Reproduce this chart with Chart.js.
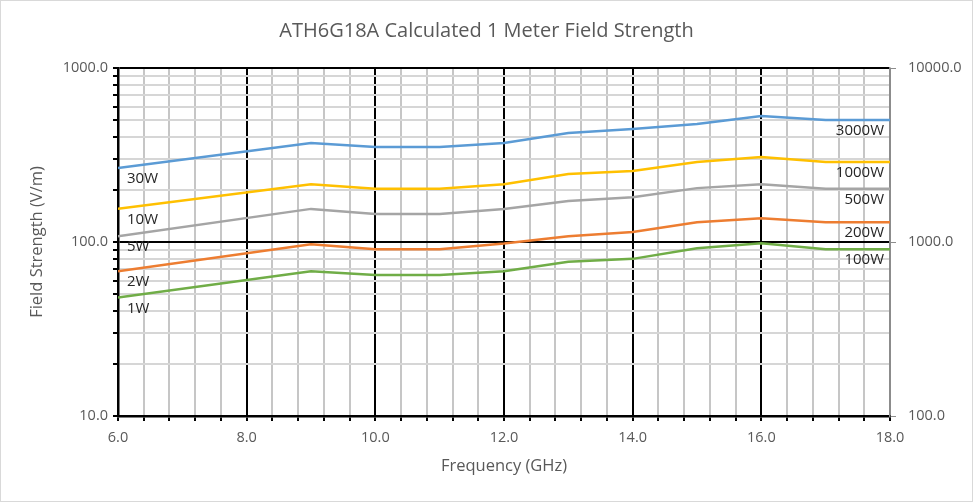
<!DOCTYPE html>
<html>
<head>
<meta charset="utf-8">
<script src="https://cdn.jsdelivr.net/npm/chart.js@4.4.1/dist/chart.umd.min.js"></script>
<style>
  html, body { margin: 0; padding: 0; background: #fff; }
  #wrap { width: 973px; height: 502px; }
</style>
</head>
<body>
<div id="wrap"><canvas id="grafico" width="973" height="502"></canvas></div>
<script>
// frequencias (GHz) onde a curva muda de direcao
const frequencias = [6, 9, 10, 11, 12, 13, 14, 15, 16, 17, 18];

// campo em V/m, eixo esquerdo (1W..30W); eixo direito = x10 (100W..3000W)
const campo30W = [266, 371, 352, 352, 371, 423, 446, 477, 530, 502, 502];
const campo10W = [155, 215, 202, 202, 215, 246, 256, 288, 308, 288, 288];
const campo5W  = [108, 155, 145, 145, 155, 172, 181, 204, 215, 202, 202];
const campo2W  = [68, 97, 91, 91, 98, 108, 114, 130, 137, 130, 130];
const campo1W  = [48, 68, 64.6, 64.6, 68, 77, 80, 92, 98.5, 91, 91];

const rotulosEsq = ["30W", "10W", "5W", "2W", "1W"];
const rotulosDir = ["3000W", "1000W", "500W", "200W", "100W"];
const cores = ["#5B9BD5", "#FFC000", "#A5A5A5", "#ED7D31", "#70AD47"];
const series = [campo30W, campo10W, campo5W, campo2W, campo1W];

const FONTE = '"Open Sans", sans-serif';
const CINZA_TXT = "#595959";

function ehDecada(v) {
  const l = Math.log10(v);
  return Math.abs(l - Math.round(l)) < 1e-6;
}
function ehMaiorX(v) {
  const k = (v - 6) / 2;
  return Math.abs(k - Math.round(k)) < 1e-6;
}
// so 1..9 x decada (tira o 150 que o chart.js coloca)
function soInteiros(s) {
  s.ticks = s.ticks.filter(t => {
    const d = Math.pow(10, Math.floor(Math.log10(t.value) + 1e-9));
    const m = t.value / d;
    return Math.abs(m - Math.round(m)) < 1e-6;
  });
}

const rotulosLinhas = {
  id: "rotulosLinhas",
  afterDatasetsDraw(chart) {
    const { ctx, scales: { x, y } } = chart;
    ctx.save();
    ctx.font = "15px " + FONTE;
    ctx.fillStyle = "#262626";
    ctx.textBaseline = "middle";
    chart.data.datasets.forEach((ds, i) => {
      const p0 = ds.data[0];
      const p1 = ds.data[ds.data.length - 1];
      ctx.textAlign = "left";
      ctx.fillText(rotulosEsq[i], x.getPixelForValue(p0.x) + 9, y.getPixelForValue(p0.y) + 11);
      ctx.textAlign = "right";
      ctx.fillText(rotulosDir[i], x.getPixelForValue(p1.x) - 6, y.getPixelForValue(p1.y) + 11);
    });
    ctx.restore();
  }
};

const moldura = {
  id: "moldura",
  beforeDraw(chart) {
    const { ctx, width, height } = chart;
    ctx.save();
    ctx.fillStyle = "#fff";
    ctx.fillRect(0, 0, width, height);
    ctx.strokeStyle = "#d9d9d9";
    ctx.lineWidth = 1;
    ctx.strokeRect(0.5, 0.5, width - 1, height - 1);
    ctx.restore();
  }
};

const datasets = series.map((valores, i) => ({
  label: rotulosEsq[i] + " / " + rotulosDir[i],
  data: frequencias.map((f, j) => ({ x: f, y: valores[j] })),
  borderColor: cores[i],
  backgroundColor: cores[i],
  borderWidth: 2.5,
  pointRadius: 0,
  tension: 0,
  yAxisID: "y"
}));

new Chart(document.getElementById("grafico"), {
  type: "line",
  data: { datasets },
  plugins: [moldura, rotulosLinhas],
  options: {
    responsive: false,
    animation: false,
    layout: { padding: 0 },
    plugins: {
      legend: { display: false },
      tooltip: { enabled: false },
      title: {
        display: true,
        text: "ATH6G18A Calculated 1 Meter Field Strength",
        color: CINZA_TXT,
        font: { family: FONTE, size: 20, weight: "normal" },
        padding: { top: 19, bottom: 25 }
      }
    },
    scales: {
      x: {
        type: "linear",
        min: 6,
        max: 18,
        afterFit: s => { s.height = 86; },
        ticks: {
          stepSize: 0.4,
          maxTicksLimit: 100,
          autoSkip: false,
          maxRotation: 0,
          padding: 8,
          color: CINZA_TXT,
          font: { family: FONTE, size: 14.5 },
          callback: v => ehMaiorX(v) ? Number(v).toFixed(1) : ""
        },
        grid: {
          color: c => {
            const v = c.tick.value;
            if (Math.abs(v - 18) < 1e-6) return "#8c8c8c";
            return ehMaiorX(v) ? "#000" : "#c6c6c6";
          },
          lineWidth: 2,
          tickColor: "#000",
          tickLength: 5
        },
        border: { color: "#000", width: 2.5 },
        title: {
          display: true,
          text: "Frequency (GHz)",
          color: CINZA_TXT,
          font: { family: FONTE, size: 16.5 },
          padding: { top: 0, bottom: 26 }
        }
      },
      y: {
        type: "logarithmic",
        position: "left",
        min: 10,
        max: 1000,
        afterFit: s => { s.width = 118; },
        afterBuildTicks: soInteiros,
        ticks: {
          autoSkip: false,
          padding: 5,
          color: CINZA_TXT,
          font: { family: FONTE, size: 14.5 },
          callback: v => ehDecada(v) ? Number(v).toFixed(1) : ""
        },
        grid: {
          color: c => ehDecada(c.tick.value) ? "#000" : "#d6d6d6",
          lineWidth: 2,
          tickColor: "#000",
          tickLength: 5
        },
        border: { color: "#000", width: 2.5 },
        title: {
          display: true,
          text: "Field Strength (V/m)",
          color: CINZA_TXT,
          font: { family: FONTE, size: 16.5 },
          padding: { top: 27, bottom: 0 }
        }
      },
      y2: {
        type: "logarithmic",
        position: "right",
        display: true,
        min: 100,
        max: 10000,
        afterFit: s => { s.width = 83; },
        afterBuildTicks: soInteiros,
        ticks: {
          autoSkip: false,
          padding: 12,
          color: CINZA_TXT,
          font: { family: FONTE, size: 14.5 },
          callback: v => ehDecada(v) ? Number(v).toFixed(1) : ""
        },
        grid: {
          drawOnChartArea: false,
          tickColor: c => ehDecada(c.tick.value) ? "#8c8c8c" : "rgba(0,0,0,0)",
          tickLength: 6
        },
        border: { color: "#8c8c8c", width: 1.5 }
      }
    }
  }
});
</script>
</body>
</html>
